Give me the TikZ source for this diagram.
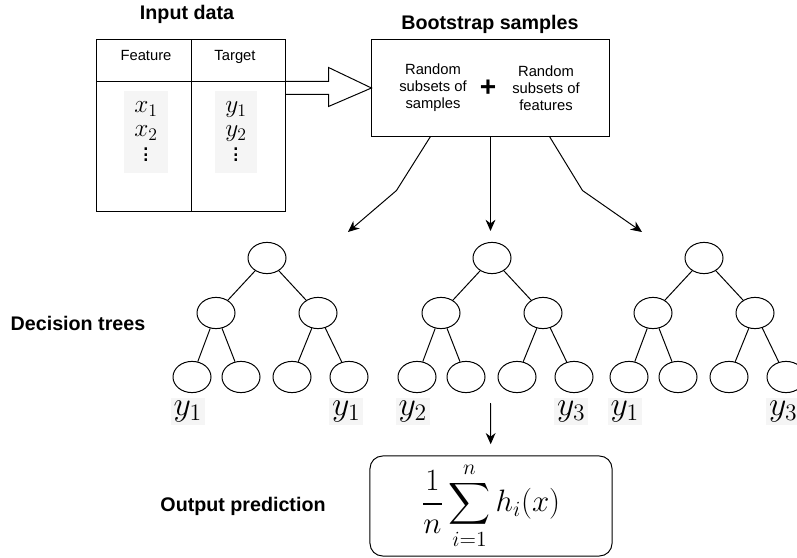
\documentclass[tikz,border=0pt]{standalone}
\usepackage{fix-cm}
\usepackage{amsmath}
\usepackage{fontspec}
\setmainfont{Liberation Sans}
\usetikzlibrary{arrows.meta,positioning,shapes.geometric,calc}

\begin{document}
\begin{tikzpicture}[x=0.025cm,y=-0.025cm,line width=0.7pt,
	title/.style={font=\fontsize{14}{17}\selectfont\bfseries},
	small/.style={font=\fontsize{10.5}{12}\selectfont,align=center},
	head/.style={font=\fontsize{10.5}{12}\selectfont,text height=0.75em,text depth=0.2em},
	leaf/.style={draw,ellipse,minimum width=0.95cm,minimum height=0.78cm,inner sep=0pt},
	lab/.style={fill=black!4,inner sep=2pt,font=\fontsize{24}{28}\selectfont},
	col/.style={fill=black!4,inner sep=2pt,font=\fontsize{18}{19}\selectfont},
	arr/.style={-{Stealth[length=8pt,width=7pt]}}]
	\useasboundingbox (0,0) rectangle (797,558);

	\node[title] (intitle) at (187,14) {Input data};
	\node[draw,minimum width=4.7cm,minimum height=4.275cm] (tbl) at (191,125.5) {};
	\draw ($(tbl.north west)+(0,42)$) -- ($(tbl.north east)+(0,42)$);
	\draw (tbl.north) -- (tbl.south);
	\node[head] (feat) at (146,57) {Feature};
	\node[head] (targ) at (235,57) {Target};
	\node[col] (xcol) at (146,132) {$\begin{array}{c}x_1\\[-2pt]x_2\\[-4pt]\vdots\end{array}$};
	\node[col] (ycol) at (236,132) {$\begin{array}{c}y_1\\[-2pt]y_2\\[-4pt]\vdots\end{array}$};

	\node[title] (btitle) at (490,24) {Bootstrap samples};
	\node[draw,minimum width=5.925cm,minimum height=2.4cm] (boot) at (490.5,88) {};
	\node[small] (rsamp) at (433,88) {Random\\subsets of\\samples};
	\node[font=\fontsize{20}{20}\selectfont\bfseries] (plus) at (488,88) {+};
	\node[small] (rfeat) at (546,88) {Random\\subsets of\\features};

	\coordinate (sh1) at ($(tbl.north east)+(0,42)$);
	\coordinate (sh2) at ($(tbl.north east)+(0,55)$);
	\draw (sh1) -- ++(43,0) -- ++(0,-14) -- (boot.west) -- ($(sh2)+(43,12)$) -- ($(sh2)+(43,0)$) -- (sh2);

	\coordinate (to1) at (348,232);
	\coordinate (to2) at (490.5,231);
	\coordinate (to3) at (642,232);
	\draw[arr] ($(boot.south west)+(59,0)$) -- ++(-34,54) -- (to1);
	\draw[arr] (boot.south) -- (to2);
	\draw[arr] ($(boot.south west)+(178,0)$) -- ++(33,54) -- (to3);

	\foreach \t/\cx in {1/267,2/492,3/704}{
		\node[leaf] (t\t) at (\cx,258) {};
		\node[leaf] (t\t l) at (\cx-51,313) {};
		\node[leaf] (t\t r) at (\cx+51,313) {};
		\node[leaf] (t\t ll) at (\cx-75,377) {};
		\node[leaf] (t\t lr) at (\cx-26,377) {};
		\node[leaf] (t\t rl) at (\cx+25,377) {};
		\node[leaf] (t\t rr) at (\cx+82,377) {};
		\draw (t\t) -- (t\t l) (t\t) -- (t\t r)
			(t\t l) -- (t\t ll) (t\t l) -- (t\t lr)
			(t\t r) -- (t\t rl) (t\t r) -- (t\t rr);
	}
	\foreach \t/\a/\b in {1/1/1,2/2/3,3/1/3}{
		\node[lab,below=3pt of t\t ll,xshift=-3pt] (y\t a) {$y_\a$};
		\node[lab,below=3pt of t\t rr,xshift=-2pt] (y\t b) {$y_\b$};
	}

	\node[title] (dtitle) at (78,323) {Decision trees};
	\node[title] (otitle) at (243,506) {Output prediction};

	\node[draw,rounded corners=9pt,minimum width=6.05cm,minimum height=2.5cm,
		font=\fontsize{22}{26}\selectfont] (pred) at (491,506) {$\displaystyle\frac{1}{n}\sum_{i=1}^{n} h_i(x)$};
	\coordinate (vote) at (490.5,403);
	\draw[arr,shorten >=8pt] (vote) -- (pred);
\end{tikzpicture}
\end{document}
